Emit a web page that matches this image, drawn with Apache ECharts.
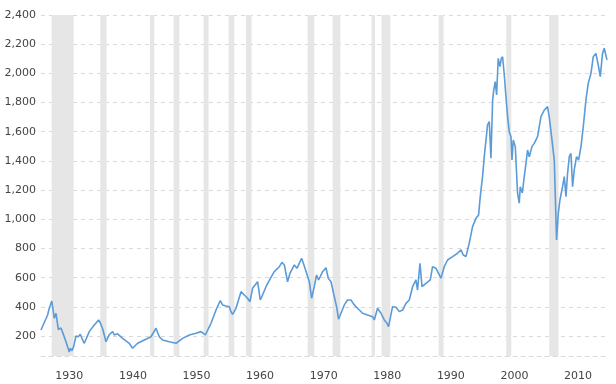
<!DOCTYPE html>
<html>
<head>
<meta charset="utf-8">
<script src="https://cdn.jsdelivr.net/npm/echarts@6/dist/echarts.min.js"></script>
<style>html,body{margin:0;padding:0;background:#fff}#c{width:616px;height:384px}</style>
</head>
<body>
<div id="c"></div>
<script>
// x positions are read in the chart's own axis units (decimal years as labelled)
var years = [1925.55,1925.64,1926.59,1926.86,1927.25,1927.64,1927.91,1928.27,1928.69,1928.95,1929.48,1930.0,1930.16,1930.42,1930.68,1931.05,1931.42,1931.73,1932.09,1932.36,1932.63,1932.88,1933.14,1933.41,1933.93,1934.61,1934.72,1934.87,1935.24,1935.77,1935.86,1936.29,1936.81,1937.08,1937.59,1938.38,1939.43,1939.95,1940.74,1941.79,1942.85,1943.63,1944.15,1944.67,1945.72,1946.78,1947.81,1948.87,1949.92,1950.71,1951.38,1952.28,1953.07,1953.74,1954.1,1954.64,1955.16,1955.42,1955.68,1956.21,1957.0,1957.52,1958.03,1958.41,1958.82,1959.61,1960.03,1960.39,1960.93,1961.71,1962.23,1963.02,1963.44,1963.81,1964.32,1964.7,1965.38,1965.8,1966.16,1966.53,1966.95,1967.22,1967.74,1968.1,1968.52,1968.88,1969.2,1969.83,1970.36,1970.72,1971.15,1971.67,1972.03,1972.34,1972.72,1973.24,1973.76,1974.29,1974.81,1975.6,1976.12,1976.9,1977.69,1977.96,1978.47,1979.01,1979.53,1979.95,1980.2,1980.83,1981.37,1981.89,1982.41,1982.94,1983.46,1983.98,1984.51,1984.76,1985.14,1985.46,1986.08,1986.76,1987.12,1987.66,1988.44,1988.96,1989.48,1990.27,1991.05,1991.59,1991.95,1992.37,1992.89,1993.41,1993.95,1994.36,1994.62,1994.98,1995.25,1995.52,1995.77,1996.04,1996.3,1996.56,1996.72,1996.98,1997.19,1997.45,1997.72,1997.92,1998.13,1998.4,1998.66,1998.92,1999.18,1999.45,1999.61,1999.81,2000.13,2000.33,2000.49,2000.75,2000.91,2001.23,2001.54,2001.81,2002.06,2002.33,2002.75,2003.11,2003.63,2004.17,2004.69,2005.2,2005.47,2005.9,2006.26,2006.62,2006.89,2007.15,2007.56,2007.83,2008.1,2008.35,2008.62,2008.88,2009.14,2009.4,2009.76,2010.08,2010.46,2010.82,2011.24,2011.6,2012.03,2012.39,2012.81,2013.22,2013.49,2013.85,2014.12,2014.54];
var values = [241,246,344,392,440,321,356,245,255,225,160,90,116,100,127,200,195,212,173,150,178,168,230,241,275,310,315,291,250,161,165,210,230,207,215,184,150,116,150,173,195,253,195,173,161,150,184,207,219,230,207,287,378,442,413,406,401,367,349,390,504,481,459,435,527,572,447,481,538,602,641,675,705,687,572,630,687,664,698,733,680,675,572,459,538,618,584,641,668,596,572,470,401,315,356,413,447,447,413,378,356,344,332,310,390,356,310,287,264,401,397,367,378,424,447,538,584,515,698,538,561,584,675,664,596,675,721,744,767,790,755,744,836,950,1007,1030,1155,1292,1429,1441,1647,1670,1418,1811,1880,1943,1852,2103,2046,2100,2114,1989,1841,1704,1600,1566,1406,1543,1498,1315,1178,1110,1223,1180,1292,1383,1475,1429,1498,1520,1566,1704,1749,1772,1700,1543,1406,858,1041,1132,1223,1292,1155,1315,1429,1452,1223,1338,1429,1406,1498,1635,1818,1932,2000,2114,2137,2046,1978,2137,2172,2092];
var bandStart = [1927.22,1934.87,1942.69,1946.40,1951.12,1955.05,1957.78,1967.47,1971.40,1977.53,1979.10,1988.07,1998.71,2005.47];
var bandEnd   = [1930.68,1935.86,1943.36,1947.30,1951.90,1955.94,1958.66,1968.52,1972.61,1978.07,1980.47,1988.85,1999.50,2006.93];

var seriesData = years.map(function(y,i){return [y, values[i]];});
var areas = bandStart.map(function(s,i){return [{xAxis:s},{xAxis:bandEnd[i]}];});

var chart = echarts.init(document.getElementById('c'), null, {renderer:'canvas'});
var font = 'DejaVu Sans';
chart.setOption({
  animation:false,
  grid:{left:41,right:9,top:15,bottom:28,containLabel:false},
  xAxis:{
    type:'value', min:1925.55, max:2014.55, splitNumber:9,
    axisLine:{show:true,lineStyle:{color:'#d9d9d9',type:[4,4],width:1}},
    axisTick:{show:false},
    splitLine:{show:false},
    axisLabel:{color:'#444',fontFamily:font,fontSize:11,margin:15,
      formatter:function(v){return (Math.abs(v-Math.round(v))<1e-6 && Math.round(v)%10===0)?String(Math.round(v)):'';}}
  },
  yAxis:{
    type:'value', min:63, max:2400, splitNumber:12,
    axisLine:{show:false}, axisTick:{show:false},
    splitLine:{show:true,lineStyle:{color:'#d9d9d9',type:[4,4],width:1}},
    axisLabel:{color:'#444',fontFamily:font,fontSize:11,margin:5,
      formatter:function(v){return (v%200===0)?v.toLocaleString('en-US'):'';}}
  },
  series:[{
    type:'line', data:seriesData, showSymbol:false, symbol:'none',
    lineStyle:{color:'#5b9bd8',width:1.6},
    markArea:{silent:true,itemStyle:{color:'#e6e6e6'},data:areas},
    z:3
  }]
});
</script>
</body>
</html>
